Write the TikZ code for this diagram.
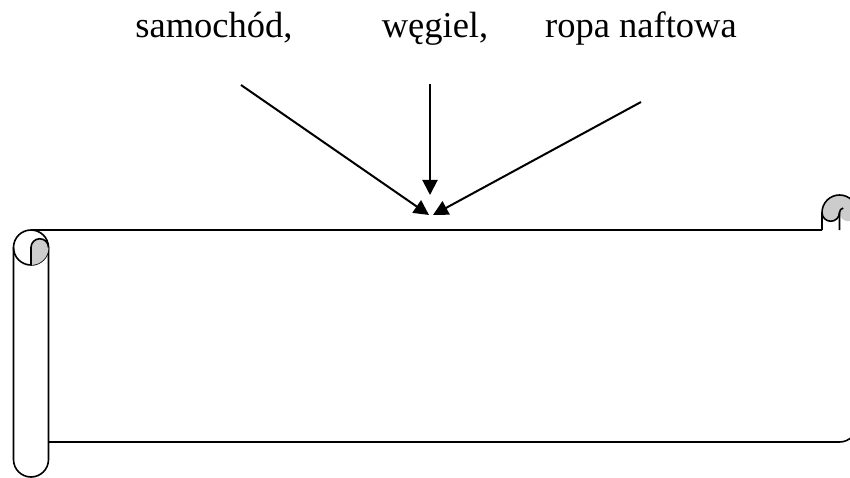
\documentclass[tikz,border=0pt]{standalone}
\usepackage{fontspec}
\setmainfont{Liberation Serif}
\usepackage{tikz}
\usetikzlibrary{arrows.meta,positioning}
\definecolor{curlgray}{RGB}{204,204,204}

\begin{document}
\begin{tikzpicture}[x=1pt, y=1pt, line join=round,
    every node/.style={font=\fontsize{36.5}{40}\selectfont, inner sep=0pt, anchor=base},
    scrollline/.style={black, line width=1.6pt},
    feed/.style={black, line width=2pt, -{Triangle[length=15pt,width=15pt]}}]

\useasboundingbox (0,0) rectangle (850,-478);
\clip (0,0) rectangle (850,-478);

% Fuels
\node (samochod) at (214,-38) {samochód,};
\node (wegiel) at (435,-38) {węgiel,};
\node (ropa) at (641,-38) {ropa naftowa};

% Arrow ends
\coordinate (s1) at (241,-85);
\coordinate (s2) at (430,-84);
\coordinate (s3) at (641,-102);
\coordinate (t1) at (429,-215);
\coordinate (t2) at (430,-195);
\coordinate (t3) at (433,-215);

\draw[feed] (s1) -- (t1);
\draw[feed] (s2) -- (t2);
\draw[feed] (s3) -- (t3);

% Scroll: body edges
\draw[scrollline] (31,-230) -- (822,-230);
\draw[scrollline] (48.5,-442) -- (839.5,-442)
    arc[start angle=270, end angle=360, radius=17.5] -- (857,-212.5);

% Left roll
\draw[scrollline] (48.5,-247.5) -- (48.5,-459.5)
    arc[start angle=0, end angle=-180, radius=17.5] -- (13.5,-247.5);
\draw[scrollline] (31,-247.5) circle (17.5);
\fill[curlgray] (31,-265) -- (31,-247.5)
    arc[start angle=180, end angle=0, radius=8.75]
    arc[start angle=0, end angle=-90, radius=17.5] -- cycle;
\draw[scrollline] (31,-265) -- (31,-247.5)
    arc[start angle=180, end angle=0, radius=8.75];

% Right roll
\fill[curlgray] (822,-212.5) arc[start angle=180, end angle=0, radius=17.5]
    arc[start angle=0, end angle=-180, radius=8.75]
    arc[start angle=0, end angle=-180, radius=8.75] -- cycle;
\draw[scrollline] (822,-230) -- (822,-212.5)
    arc[start angle=180, end angle=0, radius=17.5];
\draw[scrollline] (822,-212.5) arc[start angle=180, end angle=360, radius=8.75];
\draw[scrollline] (839.5,-230) -- (839.5,-212.5)
    arc[start angle=180, end angle=100, radius=4.5];

\end{tikzpicture}
\end{document}
